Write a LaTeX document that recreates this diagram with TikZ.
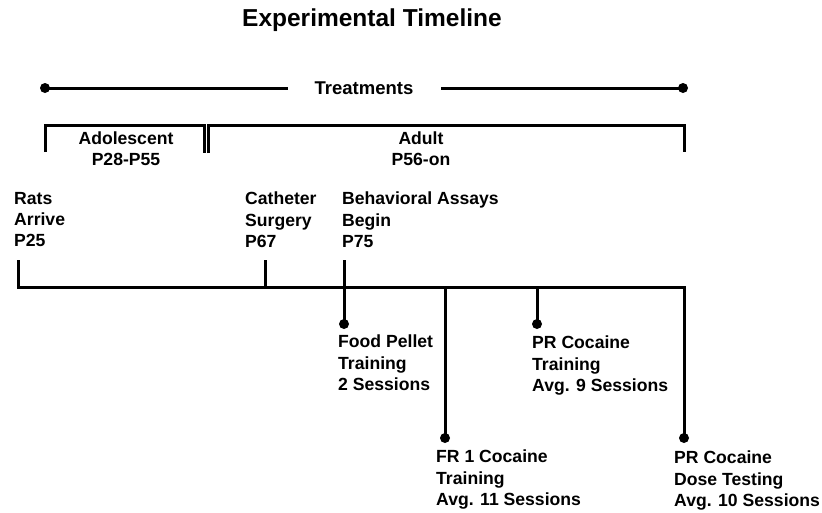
\documentclass[tikz,border=0pt]{standalone}
\usepackage{fontspec}
\setmainfont{Liberation Sans}
\begin{document}
\begin{tikzpicture}[x=1pt,y=-1pt,
  line/.style={line width=3pt},
  lbl/.style={inner sep=0pt,anchor=north west,align=left,font=\bfseries\fontsize{17.6}{21.3}\selectfont},
  clbl/.style={inner sep=0pt,align=center,font=\bfseries\fontsize{17.6}{20.5}\selectfont},
  dotc/.style={circle,fill=black,inner sep=0pt,minimum size=10pt}]
\useasboundingbox (0,0) rectangle (822,512);
% title
\node[inner sep=0pt,font=\bfseries\fontsize{24.5}{27}\selectfont] (title) at (372,20) {Experimental Timeline};
% treatments
\node[inner sep=0pt,font=\bfseries\fontsize{18.5}{21}\selectfont] (treat) at (364,88) {Treatments};
\node[dotc] (tl) at (45,88) {};
\node[dotc] (tr) at (683,88) {};
\coordinate (tlend) at (288,88);
\coordinate (trend) at (441,88);
\draw[line] (tl.center) -- (tlend);
\draw[line] (trend) -- (tr.center);
% brackets
\coordinate (ado1) at (45,152);
\coordinate (ado2) at (45,125);
\coordinate (ado3) at (204,125);
\coordinate (ado4) at (204,153);
\coordinate (adu1) at (208,153);
\coordinate (adu2) at (208,125);
\coordinate (adu3) at (684,125);
\coordinate (adu4) at (684,152);
\draw[line] (ado1) -- (ado2) -- (ado3) -- (ado4);
\draw[line] (adu1) -- (adu2) -- (adu3) -- (adu4);
\node[clbl,anchor=north] (adol) at (126,132) {Adolescent\\P28-P55};
\node[clbl,anchor=north] (adul) at (421,132) {Adult\\P56-on};
% main timeline
\coordinate (m0) at (18,287);
\coordinate (m1) at (265,287);
\coordinate (m2) at (344,287);
\coordinate (m3) at (445,287);
\coordinate (m4) at (537,287);
\coordinate (m5) at (684,287);
\coordinate (t0) at (18,260);
\coordinate (t1) at (265,260);
\coordinate (t2) at (344,260);
\draw[line] (t0) -- (m0) -- (m5) -- (684,438);
\draw[line] (t1) -- (m1);
\node[dotc] (d2) at (344,324) {};
\node[dotc] (d3) at (445,438) {};
\node[dotc] (d4) at (537,324) {};
\node[dotc] (d5) at (684,438) {};
\draw[line] (t2) -- (d2.center);
\draw[line] (m3) -- (d3.center);
\draw[line] (m4) -- (d4.center);
\draw[line] (m5) -- (d5.center);
% labels
\node[lbl] (rats) at (14,192) {Rats\\Arrive\\P25};
\node[lbl] (cath) at (245,192) {Catheter\\Surgery\\P67};
\node[lbl] (beh) at (342,192) {Behavioral Assays\\Begin\\P75};
\node[lbl] (food) at (338,335) {Food Pellet\\Training\\2 Sessions};
\node[lbl] (prt) at (532,336) {PR Cocaine\\Training\\Avg. 9 Sessions};
\node[lbl] (fr1) at (436,450) {FR 1 Cocaine\\Training\\Avg. 11 Sessions};
\node[lbl] (prd) at (674,451) {PR Cocaine\\Dose Testing\\Avg. 10 Sessions};
\end{tikzpicture}
\end{document}
